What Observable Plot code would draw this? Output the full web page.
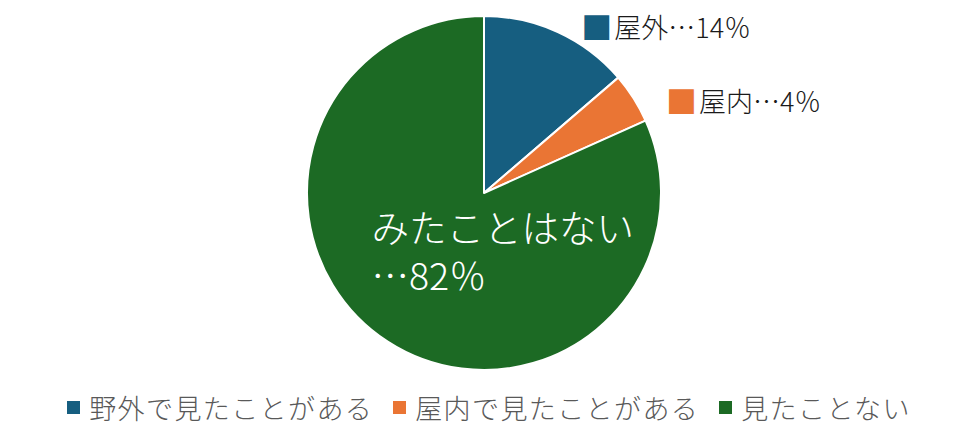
<!DOCTYPE html>
<html lang="ja"><head><meta charset="utf-8">
<script src="https://cdn.jsdelivr.net/npm/d3@7"></script>
<script src="https://cdn.jsdelivr.net/npm/@observablehq/plot@0.6"></script>
<style>
body{margin:0;background:#fff;font-family:"Noto Sans CJK JP","Noto Sans",sans-serif;}
#legend{display:flex;justify-content:center;align-items:center;height:45px;padding-left:10px;box-sizing:border-box;}
.item{display:flex;align-items:center;margin:0 10px;font-size:27px;letter-spacing:1.4px;color:#595959;font-weight:300;line-height:44px;white-space:nowrap;}
.sw{width:13px;height:13px;margin-right:9px;display:inline-block;}
</style></head><body><div id="chart"></div><div id="legend"></div>
<script>
const categories = ["野外で見たことがある", "屋内で見たことがある", "見たことない"];
const values = [13.7, 4.6, 81.7];
const labelNames = ["屋外", "屋内", "みたことはない"];
const labelPercents = ["14％", "4％", "82％"];
const colors = ["#165E80", "#EA7534", "#1C6A24"];

const arcs = d3.pie().sort(null).value(d => d)(values);
const data = categories.map((c, i) => ({
  category: c, value: values[i], start: arcs[i].startAngle, end: arcs[i].endAngle,
  mid: (arcs[i].startAngle + arcs[i].endAngle) / 2, name: labelNames[i], pct: labelPercents[i]
}));
const outer = data.slice(0, 2);
const inner = data.slice(2);
const R_OUT = 1.12, R_IN = 0.5;

const pieMark = (index, scales) => {
  const cx = scales.x(0), cy = scales.y(0), r = scales.x(1) - scales.x(0);
  const g = d3.create("svg:g").attr("transform", `translate(${cx},${cy})`);
  const arc = d3.arc().innerRadius(0).outerRadius(r);
  g.selectAll("path").data(data).join("path")
    .attr("d", d => arc({startAngle: d.start, endAngle: d.end}))
    .attr("fill", d => scales.color(d.category))
    .attr("stroke", "white").attr("stroke-width", 2).attr("stroke-linejoin", "round");
  return g.node();
};

const chart = Plot.plot({
  width: 968, height: 385,
  marginLeft: 307, marginRight: 307, marginTop: 16, marginBottom: 15,
  x: {domain: [-1, 1], axis: null},
  y: {domain: [-1, 1], axis: null},
  color: {domain: categories, range: colors},
  style: {fontFamily: '"Noto Sans CJK JP", sans-serif', overflow: "visible", background: "white"},
  marks: [
    pieMark,
    Plot.text(outer, {x: d => R_OUT * Math.sin(d.mid), y: d => R_OUT * Math.cos(d.mid), text: () => "■",
      fill: "category", textAnchor: "start", dx: 14, dy: 16, fontSize: 31}),
    Plot.text(outer, {x: d => R_OUT * Math.sin(d.mid), y: d => R_OUT * Math.cos(d.mid), text: d => d.name + "…" + d.pct,
      fill: "#1a1a1a", textAnchor: "start", dx: 47, dy: 16, fontSize: 27, fontWeight: 300}),
    Plot.text(inner, {x: d => R_IN * Math.sin(d.mid), y: d => R_IN * Math.cos(d.mid), text: d => d.name + "\n…" + d.pct,
      fill: "white", textAnchor: "start", lineAnchor: "middle", lineHeight: 48 / 37.5, dx: -65, dy: -17, fontSize: 37.5, fontWeight: 300})
  ]
});
document.getElementById("chart").append(chart);

const legend = d3.select("#legend");
categories.forEach((c, i) => {
  const it = legend.append("div").attr("class", "item");
  it.append("span").attr("class", "sw").style("background", colors[i]);
  it.append("span").text(c);
});
</script></body></html>
